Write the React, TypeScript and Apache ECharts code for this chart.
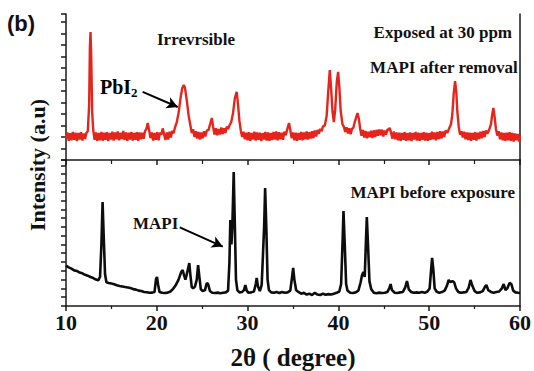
import React, { useEffect, useRef } from "react";
import * as echarts from "echarts";

// 2θ (degree), intensity (a.u.) — MAPI after removal (exposed at 30 ppm)
const afterRemoval: [number, number][] = [
  [10.0,190],[10.15,240],[10.3,168],[10.45,232],[10.6,172],[10.75,245],[10.9,176],[11.05,238],[11.2,165],[11.35,236],
  [11.5,178],[11.65,242],[11.8,170],[11.95,230],[12.1,182],[12.25,236],[12.4,250],[12.55,480],[12.63,980],[12.7,1114],
  [12.78,900],[12.88,420],[13.0,260],[13.15,175],[13.3,240],[13.45,166],[13.6,236],[13.75,172],[13.9,244],[14.05,168],
  [14.2,238],[14.35,176],[14.5,242],[14.65,164],[14.8,235],[14.95,178],[15.1,246],[15.25,170],[15.4,240],[15.55,180],
  [15.7,248],[15.85,172],[16.0,236],[16.15,182],[16.3,252],[16.45,176],[16.6,240],[16.75,166],[16.9,238],[17.05,178],
  [17.2,244],[17.35,170],[17.5,236],[17.65,175],[17.8,242],[17.95,168],[18.1,240],[18.25,180],[18.4,238],[18.55,185],
  [18.7,250],[18.85,270],[19.0,322],[19.15,262],[19.3,190],[19.45,240],[19.6,170],[19.75,236],[19.9,176],[20.05,242],
  [20.2,172],[20.35,238],[20.5,220],[20.65,275],[20.8,225],[20.95,175],[21.1,240],[21.25,178],[21.4,246],[21.55,196],
  [21.7,255],[21.85,232],[22.0,282],[22.2,330],[22.4,410],[22.6,530],[22.8,625],[22.97,652],[23.1,630],[23.3,520],
  [23.5,390],[23.7,300],[23.85,235],[24.0,268],[24.15,200],[24.3,250],[24.45,186],[24.6,244],[24.75,178],[24.9,240],
  [25.05,188],[25.2,250],[25.35,205],[25.5,255],[25.7,262],[25.9,320],[26.06,365],[26.2,290],[26.35,222],[26.5,276],
  [26.65,215],[26.8,270],[26.95,222],[27.1,282],[27.25,226],[27.4,276],[27.55,236],[27.7,290],[27.85,268],[28.0,300],
  [28.2,330],[28.4,410],[28.6,540],[28.8,592],[28.95,480],[29.1,340],[29.25,255],[29.4,200],[29.55,246],[29.7,180],
  [29.85,238],[30.0,172],[30.15,242],[30.3,166],[30.45,236],[30.6,178],[30.75,246],[30.9,170],[31.05,240],[31.2,176],
  [31.35,238],[31.5,165],[31.65,234],[31.8,178],[31.95,244],[32.1,170],[32.25,240],[32.4,168],[32.55,236],[32.7,174],
  [32.85,244],[33.0,178],[33.15,248],[33.3,172],[33.45,242],[33.6,180],[33.75,238],[33.9,176],[34.05,246],[34.2,215],
  [34.35,262],[34.56,322],[34.7,262],[34.85,190],[35.0,240],[35.15,172],[35.3,238],[35.45,166],[35.6,236],[35.75,176],
  [35.9,244],[36.05,172],[36.2,240],[36.35,180],[36.5,248],[36.65,178],[36.8,242],[36.95,186],[37.1,250],[37.25,190],
  [37.4,256],[37.55,205],[37.7,262],[37.85,228],[38.0,272],[38.15,250],[38.3,292],[38.5,300],[38.7,380],[38.85,560],
  [39.05,783],[39.2,620],[39.35,420],[39.5,330],[39.65,440],[39.82,680],[39.97,766],[40.1,640],[40.25,430],[40.45,310],
  [40.6,290],[40.75,245],[40.9,285],[41.05,230],[41.2,276],[41.35,225],[41.5,272],[41.65,280],[41.8,330],[42.1,409],
  [42.25,360],[42.4,270],[42.55,210],[42.7,262],[42.85,196],[43.0,252],[43.15,190],[43.3,246],[43.45,198],[43.6,254],
  [43.75,192],[43.9,258],[44.05,200],[44.2,262],[44.35,210],[44.5,266],[44.65,215],[44.8,264],[44.95,205],[45.1,256],
  [45.25,220],[45.4,266],[45.55,262],[45.65,280],[45.8,236],[45.95,186],[46.1,248],[46.25,180],[46.4,240],[46.55,172],
  [46.7,238],[46.85,168],[47.0,236],[47.15,176],[47.3,242],[47.45,166],[47.6,234],[47.75,172],[47.9,240],[48.05,164],
  [48.2,236],[48.35,178],[48.5,244],[48.65,170],[48.8,238],[48.95,168],[49.1,236],[49.25,176],[49.4,242],[49.55,170],
  [49.7,238],[49.85,166],[50.0,234],[50.15,176],[50.3,246],[50.45,180],[50.6,240],[50.75,172],[50.9,244],[51.05,182],
  [51.2,250],[51.35,186],[51.5,248],[51.65,200],[51.8,256],[52.0,236],[52.2,276],[52.4,310],[52.55,400],[52.7,580],
  [52.85,687],[52.98,600],[53.1,420],[53.25,290],[53.4,220],[53.55,250],[53.7,196],[53.85,246],[54.0,180],[54.15,240],
  [54.3,174],[54.45,238],[54.6,168],[54.75,236],[54.9,176],[55.05,242],[55.2,170],[55.35,238],[55.5,182],[55.65,246],
  [55.8,190],[55.95,252],[56.1,200],[56.25,256],[56.4,228],[56.6,262],[56.8,310],[56.95,400],[57.07,452],[57.2,380],
  [57.35,270],[57.5,212],[57.65,250],[57.8,180],[57.95,240],[58.1,172],[58.25,236],[58.4,166],[58.55,238],[58.7,172],
  [58.85,242],[59.0,168],[59.15,236],[59.3,160],[59.45,230],[59.6,172],[59.75,226],[59.9,160],[60.0,205]
];

// MAPI before exposure
const beforeExposure: [number, number][] = [
  [10.0,460],[10.3,440],[10.6,425],[10.9,405],[11.2,398],[11.5,380],[11.8,372],[12.1,355],[12.4,345],[12.7,330],
  [13.0,318],[13.3,300],[13.55,292],[13.75,330],[13.9,700],[14.03,1182],[14.15,800],[14.3,360],[14.45,270],[14.7,262],
  [15.0,255],[15.3,248],[15.6,236],[15.9,228],[16.2,222],[16.5,215],[16.8,210],[17.1,204],[17.4,192],[17.7,186],
  [18.0,175],[18.3,170],[18.6,160],[18.9,156],[19.2,150],[19.5,152],[19.75,160],[19.92,310],[20.02,330],[20.15,240],
  [20.3,160],[20.6,150],[20.9,148],[21.2,152],[21.5,165],[21.8,195],[22.1,240],[22.4,300],[22.7,390],[22.85,409],
  [23.0,350],[23.15,300],[23.3,360],[23.45,430],[23.58,489],[23.7,350],[23.85,215],[24.0,200],[24.2,220],[24.4,300],
  [24.55,466],[24.7,320],[24.85,190],[25.05,170],[25.3,178],[25.5,262],[25.65,250],[25.85,170],[26.1,150],[26.4,148],
  [26.7,152],[27.0,145],[27.3,150],[27.6,155],[27.85,175],[28.0,500],[28.1,978],[28.22,700],[28.32,900],[28.47,1524],
  [28.6,900],[28.72,300],[28.87,180],[29.1,155],[29.4,160],[29.6,180],[29.75,239],[29.9,175],[30.1,150],[30.4,155],
  [30.7,165],[30.9,250],[31.0,318],[31.15,220],[31.35,170],[31.55,240],[31.7,600],[31.82,900],[31.93,1342],[32.06,900],
  [32.2,300],[32.35,180],[32.6,155],[32.9,150],[33.2,158],[33.5,148],[33.8,160],[34.1,150],[34.4,155],[34.7,175],
  [34.9,330],[35.02,432],[35.15,300],[35.35,180],[35.6,160],[35.9,140],[36.2,150],[36.5,130],[36.8,140],[37.1,125],
  [37.4,150],[37.7,130],[38.0,125],[38.3,140],[38.6,128],[38.9,135],[39.2,130],[39.5,140],[39.8,150],[40.1,165],
  [40.3,250],[40.45,700],[40.56,1080],[40.7,700],[40.85,250],[41.0,175],[41.3,150],[41.6,148],[41.9,155],[42.2,175],
  [42.45,270],[42.6,350],[42.75,387],[42.9,330],[43.02,700],[43.13,1012],[43.26,700],[43.42,280],[43.62,190],[43.9,150],
  [44.2,145],[44.5,152],[44.8,148],[45.1,150],[45.4,160],[45.6,200],[45.75,250],[45.9,180],[46.2,150],[46.5,148],
  [46.8,155],[47.1,160],[47.35,210],[47.55,284],[47.75,190],[48.0,160],[48.3,150],[48.6,155],[48.9,150],[49.2,158],
  [49.5,150],[49.8,165],[50.05,200],[50.2,400],[50.32,546],[50.45,420],[50.6,200],[50.8,165],[51.1,150],[51.4,158],
  [51.7,175],[51.95,230],[52.15,296],[52.35,270],[52.55,284],[52.75,270],[52.95,200],[53.2,160],[53.5,150],[53.8,155],
  [54.1,160],[54.35,210],[54.55,296],[54.75,230],[55.0,170],[55.3,150],[55.6,155],[55.9,170],[56.15,220],[56.3,239],
  [56.5,180],[56.8,160],[57.1,150],[57.4,160],[57.7,165],[58.0,200],[58.2,250],[58.4,180],[58.6,200],[58.85,262],
  [59.05,250],[59.25,175],[59.5,155],[59.8,150],[60.0,148]
];

const xTicks = [10, 20, 30, 40, 50, 60];
const pbI2Arrow: [number, number][] = [[18.44, 592], [22.31, 461]];
const mapiArrow: [number, number][] = [[22.53, 893], [27.27, 676]];

const SERIF = '"Liberation Serif", "Times New Roman", serif';
const AXIS = "#1a1a1a";

export default function App() {
  const ref = useRef<HTMLDivElement>(null);
  useEffect(() => {
    if (!ref.current) return;
    const chart = echarts.init(ref.current, null, { renderer: "svg" });
    const xMin = xTicks[0];
    const xMax = xTicks[xTicks.length - 1];
    const commonAxisLine = { show: true, lineStyle: { color: AXIS, width: 1.5 } };
    const arrowLine = (pts: [number, number][]) => ({
      silent: true,
      symbol: ["none", "arrow"],
      symbolSize: [9, 11],
      label: { show: false },
      lineStyle: { color: "#000", width: 2, type: "solid" },
      data: [[{ coord: pts[0] }, { coord: pts[1] }]],
    });
    const annot = (size: number) => `bold ${size}px ${SERIF}`;
    chart.setOption({
      animation: false,
      backgroundColor: "#fff",
      grid: [
        { left: 66, right: 14, top: 14, height: 146 },
        { left: 66, right: 14, top: 160, height: 147 },
      ],
      xAxis: [
        {
          gridIndex: 0, type: "value", position: "top", min: xMin, max: xMax, interval: 10,
          axisLine: commonAxisLine,
          axisTick: { show: true, inside: true, length: 5, lineStyle: { color: AXIS, width: 1.5 } },
          minorTick: { show: true, splitNumber: 2, length: 4, lineStyle: { color: AXIS, width: 1.2 } },
          axisLabel: { show: false }, splitLine: { show: false },
        },
        {
          gridIndex: 1, type: "value", position: "bottom", min: xMin, max: xMax, interval: 10,
          axisLine: commonAxisLine,
          axisTick: { show: true, inside: false, length: 5, lineStyle: { color: AXIS, width: 1.5 } },
          minorTick: { show: true, splitNumber: 2, length: 3, lineStyle: { color: AXIS, width: 1.2 } },
          axisLabel: { show: true, margin: 5, fontFamily: SERIF, fontWeight: "bold", fontSize: 22, color: "#111" },
          splitLine: { show: false },
          name: "2θ ( degree)", nameLocation: "middle", nameGap: 39,
          nameTextStyle: { fontFamily: SERIF, fontWeight: "bold", fontSize: 25, color: "#111" },
        },
      ],
      yAxis: [
        {
          gridIndex: 0, type: "value", position: "left", min: 0, max: 1270, interval: 100,
          axisLine: commonAxisLine,
          axisTick: { show: true, inside: false, length: 5, lineStyle: { color: AXIS, width: 1.5 } },
          axisLabel: { show: false }, splitLine: { show: false },
        },
        {
          gridIndex: 1, type: "value", position: "left", min: 0, max: 1660, interval: 100,
          axisLine: commonAxisLine,
          axisTick: { show: true, inside: false, length: 5, lineStyle: { color: AXIS, width: 1.5 } },
          axisLabel: { show: false }, splitLine: { show: false },
        },
        {
          gridIndex: 0, type: "value", position: "right", min: 0, max: 1270,
          axisLine: commonAxisLine, axisTick: { show: false }, axisLabel: { show: false }, splitLine: { show: false },
        },
        {
          gridIndex: 1, type: "value", position: "right", min: 0, max: 1660,
          axisLine: commonAxisLine, axisTick: { show: false }, axisLabel: { show: false }, splitLine: { show: false },
        },
      ],
      series: [
        {
          name: "MAPI after removal", type: "line", xAxisIndex: 0, yAxisIndex: 0,
          data: afterRemoval, showSymbol: false, symbol: "none",
          lineStyle: { color: "#e5251c", width: 2.4 },
          markLine: arrowLine(pbI2Arrow),
        },
        {
          name: "MAPI before exposure", type: "line", xAxisIndex: 1, yAxisIndex: 1,
          data: beforeExposure, showSymbol: false, symbol: "none",
          lineStyle: { color: "#0d0d0d", width: 2.6 },
          markLine: arrowLine(mapiArrow),
        },
      ],
      graphic: [
        { type: "text", left: 7, top: 12, style: { text: "(b)", font: 'bold 22px "Liberation Sans", Arial, sans-serif', fill: "#111" } },
        { type: "text", left: 157, top: 31, style: { text: "Irrevrsible", font: annot(17), fill: "#111" } },
        { type: "text", right: 22, top: 24, style: { text: "Exposed at 30 ppm", font: annot(17), fill: "#111" } },
        { type: "text", right: 16, top: 59, style: { text: "MAPI after removal", font: annot(17), fill: "#111" } },
        { type: "text", right: 19, top: 184, style: { text: "MAPI before exposure", font: annot(17), fill: "#111" } },
        { type: "text", left: 133, top: 215, style: { text: "MAPI", font: annot(17), fill: "#111" } },
        {
          type: "text", left: 100, top: 77,
          style: {
            text: "{a|PbI}{s|2}",
            rich: {
              a: { fontFamily: SERIF, fontWeight: "bold", fontSize: 20, color: "#111" },
              s: { fontFamily: SERIF, fontWeight: "bold", fontSize: 13, color: "#111", padding: [10, 0, 0, 0] },
            },
          },
        },
        {
          type: "text", x: 37, y: 165, rotation: Math.PI / 2,
          style: {
            text: "Intensity (a.u)", font: annot(22), fill: "#111",
            align: "center", verticalAlign: "middle", textAlign: "center", textVerticalAlign: "middle",
          },
        },
      ],
    });
    return () => chart.dispose();
  }, []);
  return <div ref={ref} style={{ position: "fixed", left: 0, top: 0, width: 534, height: 371 }} />;
}
